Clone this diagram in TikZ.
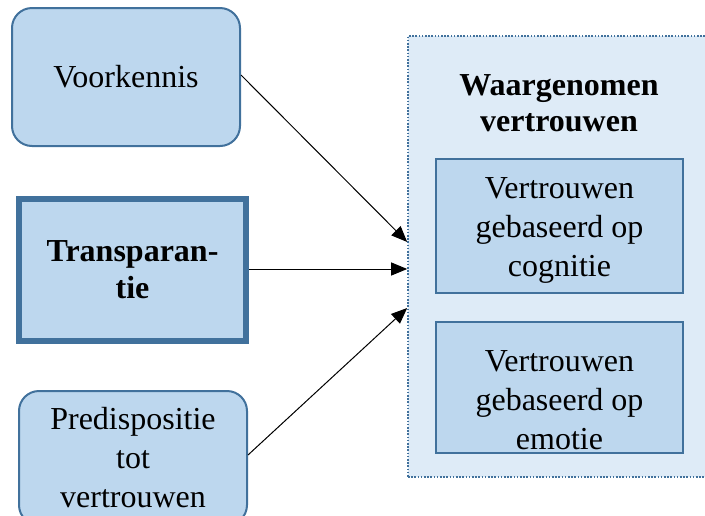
\documentclass[tikz,border=0pt]{standalone}
\usepackage{fontspec}
\setmainfont{Liberation Serif}
\usetikzlibrary{arrows.meta}
\definecolor{boxfill}{HTML}{BDD7EE}
\definecolor{boxline}{HTML}{41719C}
\definecolor{outerfill}{HTML}{DEEBF7}
\tikzset{
  txt/.style={font=\fontsize{32}{39}\selectfont, align=center, inner sep=0pt},
  roundbox/.style={txt, draw=boxline, fill=boxfill, line width=2pt, rounded corners=20pt},
  thickbox/.style={txt, draw=boxline, fill=boxfill, line width=6pt},
  innerbox/.style={txt, draw=boxline, fill=boxfill, line width=2pt},
  outerbox/.style={draw=boxline, fill=outerfill, line width=1.6pt, dash pattern=on 1.6pt off 1.6pt, inner sep=0pt},
  conn/.style={line width=1pt, -{Triangle[length=16pt,width=13pt]}}
}
\begin{document}
\begin{tikzpicture}[x=1pt,y=-1pt]
\useasboundingbox (0,0) rectangle (705,515);
\clip (0,0) rectangle (705,515);
% outer group
\node[outerbox, minimum width=312pt, minimum height=441pt] (outer) at (564,256.5) {};
\node[txt, font=\fontsize{32}{36}\selectfont\bfseries] (title) at (559,103) {Waargenomen\\vertrouwen};
\node[innerbox, minimum width=247pt, minimum height=134pt] (cog) at (559.5,226) {};
\node[txt] (cogtxt) at (559.5,230) {Vertrouwen\\gebaseerd op\\cognitie};
\node[innerbox, minimum width=247pt, minimum height=131pt] (emo) at (559.5,387.5) {};
\node[txt] (emotxt) at (559.5,400) {Vertrouwen\\gebaseerd op\\emotie};
% left boxes
\node[roundbox, minimum width=228pt, minimum height=138pt] (voor) at (126,77) {Voorkennis};
\node[thickbox, minimum width=227pt, minimum height=142pt, font=\fontsize{32}{37}\selectfont\bfseries] (trans) at (132.5,270) {Transparan-\\tie};
\node[roundbox, minimum width=228pt, minimum height=134pt] (pred) at (133,458) {Predispositie\\tot\\vertrouwen};
% connectors
\draw[conn] ([yshift=2pt]voor.east) -- ([yshift=14.5pt]outer.west);
\draw[conn] ([yshift=1pt]trans.east) -- ([yshift=-12.5pt]outer.west);
\draw[conn] ([yshift=3pt]pred.east) -- ([yshift=-51.5pt]outer.west);
\end{tikzpicture}
\end{document}
